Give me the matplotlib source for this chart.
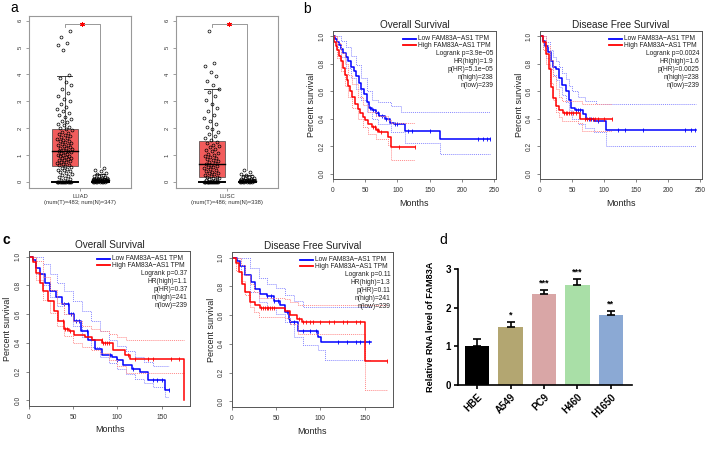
import numpy as np
import matplotlib
matplotlib.use("Agg")
import matplotlib.pyplot as plt
from matplotlib.patches import Rectangle

plt.rcParams['font.family'] = ['Liberation Sans', 'DejaVu Sans']

# ------------------------------------------------------------------ data
# panel a : box statistics [lower whisker, q1, median, q3, upper whisker]
luad_tumor_box = [0.0, 0.57, 1.15, 1.95, 3.95]
luad_normal_box = [0.0, 0.0, 0.05, 0.12, 0.27]
lusc_tumor_box = [0.0, 0.19, 0.65, 1.50, 3.44]
lusc_normal_box = [0.0, 0.0, 0.03, 0.10, 0.24]

luad_tumor_pts = [0, 0, 0, 0, 0, 0, 0, 0, 0, 0, 0, 0, 0, 0,
                  0.03, 0.06, 0.09, 0.13, 0.16, 0.2, 0.24, 0.27, 0.31, 0.35, 0.38, 0.42, 0.45, 0.49, 0.52, 0.55,
                  0.59, 0.61, 0.64, 0.67, 0.69, 0.72, 0.74, 0.77, 0.79, 0.82, 0.84, 0.87, 0.89, 0.91, 0.94, 0.96,
                  0.99, 1.01, 1.04, 1.06, 1.09, 1.11, 1.13, 1.16, 1.19, 1.21, 1.24, 1.27, 1.29, 1.32, 1.35, 1.38,
                  1.41, 1.44, 1.47, 1.5, 1.53, 1.57, 1.6, 1.64, 1.67, 1.71, 1.75, 1.79, 1.83, 1.87, 1.91, 1.95,
                  1.99, 2.04, 2.1, 2.15, 2.21, 2.27, 2.33, 2.4, 2.47, 2.55, 2.62, 2.71, 2.8, 2.9, 2.99, 3.1, 3.2,
                  3.32, 3.45, 3.6, 3.72, 3.86, 3.97, 4.92, 5.08, 5.17, 5.38, 5.62]
luad_normal_pts = [0, 0, 0, 0, 0, 0, 0, 0, 0.01, 0.02, 0.02, 0.03, 0.04, 0.05, 0.05, 0.06, 0.07, 0.08, 0.09,
                   0.1, 0.11, 0.12, 0.13, 0.15, 0.17, 0.2, 0.22, 0.25, 0.29, 0.33, 0.38, 0.44, 0.5]
lusc_tumor_pts = [0, 0, 0, 0, 0, 0, 0, 0, 0, 0, 0, 0, 0, 0, 0, 0,
                  0.02, 0.04, 0.06, 0.08, 0.1, 0.12, 0.14, 0.17, 0.19, 0.22, 0.25, 0.28, 0.31, 0.34, 0.37, 0.4,
                  0.43, 0.46, 0.5, 0.53, 0.56, 0.6, 0.63, 0.66, 0.7, 0.73, 0.77, 0.8, 0.84, 0.88, 0.92, 0.96,
                  1.0, 1.04, 1.08, 1.13, 1.18, 1.23, 1.28, 1.33, 1.38, 1.44, 1.49, 1.55, 1.62, 1.7, 1.78, 1.86,
                  1.95, 2.05, 2.15, 2.25, 2.37, 2.5, 2.62, 2.75, 2.9, 3.05, 3.2, 3.35, 3.45, 3.6, 3.75, 3.95,
                  4.1, 4.3, 4.42, 5.6]
lusc_normal_pts = [0, 0, 0, 0, 0, 0, 0, 0, 0.01, 0.01, 0.02, 0.03, 0.03, 0.04, 0.05, 0.06, 0.07, 0.08, 0.09,
                   0.1, 0.12, 0.14, 0.16, 0.19, 0.22, 0.26, 0.3, 0.35, 0.42]

# panel b : overall survival (months, survival) step change points
bos_low_t = [0, 3, 6, 9, 12, 16, 20, 24, 28, 32, 36, 40, 44, 48, 52, 56, 60, 66, 72, 80, 88, 95, 112, 166, 243]
bos_low_s = [1.0, 0.98, 0.96, 0.94, 0.91, 0.88, 0.85, 0.82, 0.78, 0.75, 0.71, 0.66, 0.62, 0.58, 0.52, 0.48,
             0.46, 0.44, 0.42, 0.40, 0.37, 0.36, 0.31, 0.25, 0.25]
bos_low_ut = [0, 6, 12, 20, 28, 36, 44, 52, 60, 70, 90, 105, 243]
bos_low_us = [1.0, 1.0, 0.97, 0.92, 0.86, 0.79, 0.70, 0.60, 0.54, 0.52, 0.49, 0.45, 0.45]
bos_low_lt = [0, 6, 12, 20, 28, 36, 44, 52, 60, 70, 90, 112, 166, 243]
bos_low_ls = [1.0, 0.92, 0.85, 0.77, 0.70, 0.62, 0.54, 0.45, 0.40, 0.36, 0.30, 0.22, 0.14, 0.14]
bos_low_cens = [58, 62, 66, 70, 76, 82, 96, 100, 116, 122, 150, 225, 233, 239, 243]
bos_high_t = [0, 2, 4, 6, 9, 12, 15, 18, 21, 24, 27, 30, 34, 38, 42, 46, 50, 55, 60, 66, 72, 85, 90, 127]
bos_high_s = [1.0, 0.96, 0.93, 0.90, 0.86, 0.82, 0.77, 0.72, 0.68, 0.64, 0.60, 0.56, 0.51, 0.47, 0.44, 0.41,
              0.39, 0.36, 0.34, 0.32, 0.30, 0.27, 0.19, 0.19]
bos_high_ut = [0, 6, 12, 18, 24, 30, 38, 46, 55, 66, 85, 90, 127]
bos_high_us = [1.0, 0.95, 0.88, 0.80, 0.72, 0.65, 0.56, 0.50, 0.45, 0.42, 0.39, 0.37, 0.37]
bos_high_lt = [0, 6, 12, 18, 24, 30, 38, 46, 55, 66, 85, 90, 127]
bos_high_ls = [1.0, 0.84, 0.75, 0.64, 0.56, 0.48, 0.40, 0.34, 0.29, 0.25, 0.21, 0.10, 0.10]
bos_high_cens = [62, 65, 68, 70, 74, 102, 127]
bos_stats = ["Logrank p=3.9e\u221205", "HR(high)=1.9", "p(HR)=5.1e\u221205", "n(high)=238", "n(low)=239"]

# panel b : disease free survival
bdfs_low_t = [0, 4, 8, 12, 17, 20, 25, 30, 35, 41, 46, 49, 54, 67, 72, 85, 103, 243]
bdfs_low_s = [1.0, 0.97, 0.93, 0.89, 0.82, 0.78, 0.76, 0.70, 0.645, 0.60, 0.54, 0.48, 0.46, 0.435, 0.40,
              0.38, 0.32, 0.32]
bdfs_low_ut = [0, 5, 10, 15, 20, 25, 30, 35, 40, 45, 50, 60, 70, 88, 243]
bdfs_low_us = [1.0, 1.0, 0.96, 0.90, 0.85, 0.82, 0.78, 0.73, 0.69, 0.64, 0.60, 0.56, 0.53, 0.51, 0.51]
bdfs_low_lt = [0, 5, 10, 15, 20, 25, 30, 35, 40, 45, 50, 60, 70, 85, 103, 243]
bdfs_low_ls = [1.0, 0.92, 0.84, 0.76, 0.72, 0.68, 0.63, 0.57, 0.52, 0.46, 0.40, 0.36, 0.33, 0.30, 0.20, 0.20]
bdfs_low_cens = [56, 59, 62, 76, 80, 90, 122, 133, 160, 226, 236, 242]
bdfs_high_t = [0, 4, 9, 13.6, 17, 21, 25, 30, 35.5, 63, 112]
bdfs_high_s = [1.0, 0.96, 0.87, 0.76, 0.63, 0.55, 0.49, 0.46, 0.44, 0.40, 0.40]
bdfs_high_ut = [0, 5, 10, 15, 20, 25, 30, 35, 60, 65, 112]
bdfs_high_us = [1.0, 1.0, 0.93, 0.83, 0.71, 0.62, 0.56, 0.53, 0.53, 0.51, 0.51]
bdfs_high_lt = [0, 5, 10, 15, 20, 25, 30, 35, 60, 65, 112]
bdfs_high_ls = [1.0, 0.90, 0.80, 0.66, 0.54, 0.45, 0.41, 0.38, 0.37, 0.31, 0.31]
bdfs_high_cens = [38, 40, 42, 45, 48, 52, 56, 70, 74, 78, 82, 86, 90, 100, 112]
bdfs_stats = ["Logrank p=0.0024", "HR(high)=1.6", "p(HR)=0.0025", "n(high)=238", "n(low)=239"]

# panel c : overall survival
cos_low_t = [0, 4, 8, 12, 18, 24, 30, 37, 45, 51, 59, 67, 75, 83, 94, 100, 106, 116, 126, 134, 154, 158]
cos_low_s = [1.0, 0.98, 0.92, 0.88, 0.82, 0.76, 0.72, 0.67, 0.60, 0.55, 0.48, 0.42, 0.36, 0.315, 0.30, 0.28,
             0.245, 0.22, 0.20, 0.14, 0.07, 0.07]
cos_low_ut = [0, 8, 16, 24, 32, 40, 50, 60, 70, 80, 90, 100, 110, 120, 130, 140, 158]
cos_low_us = [1.0, 1.0, 0.95, 0.88, 0.82, 0.76, 0.69, 0.62, 0.55, 0.48, 0.42, 0.38, 0.34, 0.30, 0.27, 0.24,
              0.24]
cos_low_lt = [0, 8, 16, 24, 32, 40, 50, 60, 70, 80, 90, 100, 110, 120, 130, 140, 154, 158]
cos_low_ls = [1.0, 0.88, 0.80, 0.72, 0.66, 0.60, 0.52, 0.44, 0.37, 0.30, 0.26, 0.22, 0.18, 0.15, 0.12, 0.09,
              0.02, 0.02]
cos_low_cens = [40, 44, 47, 50, 53, 56, 65, 92, 100, 118, 140, 145, 150, 158]
cos_high_t = [0, 4, 8, 12, 16, 22, 28, 33, 39, 45, 51, 63, 71, 83, 94.5, 108, 114, 175]
cos_high_s = [1.0, 0.96, 0.89, 0.82, 0.76, 0.69, 0.62, 0.55, 0.50, 0.48, 0.456, 0.444, 0.42, 0.40, 0.35,
              0.315, 0.285, 0.0]
cos_high_ut = [0, 8, 16, 24, 32, 40, 50, 60, 70, 80, 90, 100, 110, 175]
cos_high_us = [1.0, 0.97, 0.86, 0.77, 0.68, 0.60, 0.55, 0.52, 0.50, 0.48, 0.46, 0.44, 0.42, 0.42]
cos_high_lt = [0, 8, 16, 24, 32, 40, 50, 60, 70, 80, 90, 100, 110, 175]
cos_high_ls = [1.0, 0.84, 0.70, 0.61, 0.52, 0.45, 0.40, 0.37, 0.35, 0.33, 0.28, 0.24, 0.19, 0.19]
cos_high_cens = [38, 41, 43, 46, 82, 84, 86, 88, 90, 112, 120, 135, 140, 160, 170]
cos_stats = ["Logrank p=0.37", "HR(high)=1.1", "p(HR)=0.37", "n(high)=241", "n(low)=239"]

# panel c : disease free survival
cdfs_low_t = [0, 4, 6, 9, 15, 21, 26, 32, 39, 47, 54, 60, 64, 66, 75, 97, 101, 157]
cdfs_low_s = [1.0, 1.0, 0.98, 0.94, 0.88, 0.83, 0.785, 0.75, 0.73, 0.70, 0.67, 0.62, 0.575, 0.55, 0.49, 0.45,
              0.41, 0.41]
cdfs_low_ut = [0, 10, 20, 30, 40, 50, 60, 70, 80, 157]
cdfs_low_us = [1.0, 1.0, 0.93, 0.86, 0.82, 0.79, 0.74, 0.70, 0.66, 0.66]
cdfs_low_lt = [0, 10, 20, 30, 40, 50, 60, 70, 80, 97, 105, 157]
cdfs_low_ls = [1.0, 0.89, 0.76, 0.69, 0.65, 0.61, 0.55, 0.45, 0.39, 0.36, 0.29, 0.29]
cdfs_low_cens = [40, 44, 48, 52, 62, 66, 70, 80, 88, 95, 120, 130, 140, 145, 150, 155]
cdfs_high_t = [0, 2, 4, 7.5, 11, 15, 20.6, 26, 32, 60, 65.5, 73, 79, 150, 175]
cdfs_high_s = [1.0, 1.0, 0.96, 0.90, 0.82, 0.76, 0.69, 0.67, 0.65, 0.63, 0.60, 0.575, 0.552, 0.28, 0.28]
cdfs_high_ut = [0, 5, 10, 15, 20, 25, 30, 60, 65, 75, 150, 175]
cdfs_high_us = [1.0, 1.0, 0.95, 0.88, 0.82, 0.76, 0.72, 0.71, 0.69, 0.67, 0.67, 0.67]
cdfs_high_lt = [0, 5, 10, 15, 20, 25, 30, 60, 65, 75, 150, 175]
cdfs_high_ls = [1.0, 0.91, 0.84, 0.74, 0.66, 0.62, 0.59, 0.58, 0.54, 0.47, 0.08, 0.08]
cdfs_high_cens = [33, 35, 37, 39, 41, 43, 45, 47, 76, 80, 84, 88, 92, 100, 110, 115, 125, 130, 140, 145, 175]
cdfs_stats = ["Logrank p=0.11", "HR(high)=1.3", "p(HR)=0.11", "n(high)=241", "n(low)=239"]

# panel d : bar chart
d_cells = ["HBE", "A549", "PC9", "H460", "H1650"]
d_values = [1.0, 1.5, 2.35, 2.58, 1.82]
d_errors = [0.19, 0.12, 0.10, 0.17, 0.10]
d_signif = ["", "*", "***", "***", "**"]
d_colors = ["#000000", "#b3a671", "#d9a6a6", "#a9dfa7", "#8ba9d4"]

# ------------------------------------------------------------------ figure
W, H = 709, 451
fig = plt.figure(figsize=(W / 100, H / 100), dpi=100)


def add_ax(x0, y0, x1, y1):
    return fig.add_axes([x0 / W, 1 - y1 / H, (x1 - x0) / W, (y1 - y0) / H])


def jitter(n, width):
    return ((np.arange(n) * 0.6180339887) % 1 - 0.5) * width


def box_panel(px, tumor_pts, normal_pts, tumor_box, normal_box, xlabel, right_low):
    ax = add_ax(*px)
    ax.set_xlim(0, 2.87)
    ax.set_ylim(-0.235, 6.175)
    for pos, stats, w, face in [(1, tumor_box, 0.73, '#f25c5c'), (2, normal_box, 0.48, '#5a5a5a')]:
        lo, q1, med, q3, hi = stats
        ax.add_patch(Rectangle((pos - w / 2, q1), w, q3 - q1, facecolor=face, edgecolor='#444444',
                               lw=0.5, zorder=2))
        ax.plot([pos, pos], [q3, hi], color='#222222', lw=0.5, zorder=2)
        ax.plot([pos - w * 0.28, pos + w * 0.28], [hi, hi], color='#222222', lw=0.6, zorder=2)
        ax.plot([pos - w / 2, pos + w / 2], [lo, lo], color='black', lw=1.4, zorder=4)
        ax.plot([pos - w / 2, pos + w / 2], [med, med], color='black', lw=1.0, zorder=5)
    tp = np.array(tumor_pts, float)
    npt = np.array(normal_pts, float)
    ax.plot(1 + jitter(len(tp), 0.42), tp, 'o', ms=2.1, mfc='none', mec='black', mew=0.5, zorder=3)
    ax.plot(2 + jitter(len(npt), 0.42), npt, 'o', ms=2.1, mfc='none', mec='black', mew=0.5, zorder=3)
    ax.plot([1, 1, 2, 2], [5.75, 5.88, 5.88, right_low], color='#888888', lw=0.6)
    ax.plot([1.5], [5.88], marker=(6, 2, 0), color='red', ms=3.5, mew=0.7)
    for s in ax.spines.values():
        s.set_color('#999999')
        s.set_linewidth(0.8)
    ax.set_yticks(range(7))
    ax.set_yticklabels([str(i) for i in range(7)], rotation=90, va='center')
    ax.set_xticks([1.44])
    ax.set_xticklabels([xlabel], linespacing=1.1)
    ax.tick_params(labelsize=4.2, length=2.5, width=0.5, color='#777777', labelcolor='#333333', pad=2)
    return ax


box_panel((29, 16, 131, 188), luad_tumor_pts, luad_normal_pts, luad_tumor_box, luad_normal_box,
          "LUAD\n(num(T)=483; num(N)=347)", 0.55)
box_panel((176, 16, 278, 188), lusc_tumor_pts, lusc_normal_pts, lusc_tumor_box, lusc_normal_box,
          "LUSC\n(num(T)=486; num(N)=338)", 0.43)


def step_at(t, s, q):
    idx = np.searchsorted(np.array(t, float), np.array(q, float), side='right') - 1
    return np.array(s, float)[idx]


def km_panel(px, xmax, xticks, title, curves, stats):
    ax = add_ax(*px)
    wpx = px[2] - px[0]
    hpx = px[3] - px[1]
    ax.set_xlim(0, xmax * 1.04)
    ax.set_ylim(-0.04, 1.04)
    for (t, s, ut, us, lt, ls, cens, col, band) in curves:
        ax.step(ut, us, where='post', color=band, ls=(0, (1, 1)), lw=0.7)
        ax.step(lt, ls, where='post', color=band, ls=(0, (1, 1)), lw=0.7)
        ax.step(t, s, where='post', color=col, lw=1.1)
        ax.plot(cens, step_at(t, s, cens), '|', color=col, ms=3.5, mew=0.6)
    for sp in ax.spines.values():
        sp.set_color('#555555')
        sp.set_linewidth(0.7)
    ax.set_xticks(xticks)
    ax.set_xticklabels([str(x) for x in xticks])
    yt = [0, 0.2, 0.4, 0.6, 0.8, 1.0]
    ax.set_yticks(yt)
    ax.set_yticklabels(["%.1f" % v for v in yt], rotation=90, va='center')
    ax.tick_params(labelsize=4.8, length=2.5, width=0.5, color='#555555', labelcolor='#333333', pad=3)
    ax.set_title(title, fontsize=7.2, pad=2.5, color='#222222')
    ax.text(-21 / wpx, 0.5, "Percent survival", rotation=90, ha='center', va='center',
            transform=ax.transAxes, fontsize=6.5, color='#222222')
    ax.text(0.5, -24 / hpx, "Months", ha='center', va='center', transform=ax.transAxes,
            fontsize=6.4, color='#222222')
    # legend
    for i, (lab, col) in enumerate([("Low FAM83A\u2212AS1 TPM", 'blue'), ("High FAM83A\u2212AS1 TPM", 'red')]):
        yy = 1 - (7.8 + 6.6 * i) / hpx
        ax.plot([1 - 93 / wpx, 1 - 80 / wpx], [yy, yy], color=col, lw=1.3, transform=ax.transAxes,
                clip_on=False)
        ax.text(1 - 78 / wpx, yy, lab, ha='left', va='center', transform=ax.transAxes, fontsize=4.8,
                color='#222222')
    for i, line in enumerate(stats):
        yy = 1 - (22.5 + 8.0 * i) / hpx
        ax.text(1 - 2.5 / wpx, yy, line, ha='right', va='center', transform=ax.transAxes, fontsize=4.8,
                color='#222222')
    return ax


BLUE, RED, LBLUE, LRED = '#0000ff', '#ff0000', '#8a8aff', '#ff8a8a'
km_panel((333, 31, 496, 179), 243, [0, 50, 100, 150, 200, 250], "Overall Survival",
         [(bos_low_t, bos_low_s, bos_low_ut, bos_low_us, bos_low_lt, bos_low_ls, bos_low_cens, BLUE, LBLUE),
          (bos_high_t, bos_high_s, bos_high_ut, bos_high_us, bos_high_lt, bos_high_ls, bos_high_cens, RED, LRED)],
         bos_stats)
km_panel((540, 31, 702, 179), 243, [0, 50, 100, 150, 200, 250], "Disease Free Survival",
         [(bdfs_low_t, bdfs_low_s, bdfs_low_ut, bdfs_low_us, bdfs_low_lt, bdfs_low_ls, bdfs_low_cens, BLUE, LBLUE),
          (bdfs_high_t, bdfs_high_s, bdfs_high_ut, bdfs_high_us, bdfs_high_lt, bdfs_high_ls, bdfs_high_cens, RED,
           LRED)],
         bdfs_stats)
km_panel((29, 251, 190, 406), 175, [0, 50, 100, 150], "Overall Survival",
         [(cos_low_t, cos_low_s, cos_low_ut, cos_low_us, cos_low_lt, cos_low_ls, cos_low_cens, BLUE, LBLUE),
          (cos_high_t, cos_high_s, cos_high_ut, cos_high_us, cos_high_lt, cos_high_ls, cos_high_cens, RED, LRED)],
         cos_stats)
km_panel((232, 252, 393, 407), 175, [0, 50, 100, 150], "Disease Free Survival",
         [(cdfs_low_t, cdfs_low_s, cdfs_low_ut, cdfs_low_us, cdfs_low_lt, cdfs_low_ls, cdfs_low_cens, BLUE, LBLUE),
          (cdfs_high_t, cdfs_high_s, cdfs_high_ut, cdfs_high_us, cdfs_high_lt, cdfs_high_ls, cdfs_high_cens, RED,
           LRED)],
         cdfs_stats)

# panel d
axd = add_ax(458, 269, 632, 385)
x = np.arange(len(d_cells))
axd.bar(x, d_values, width=0.72, color=d_colors, edgecolor='none', zorder=2)
axd.errorbar(x, d_values, yerr=[np.zeros(len(d_values)), d_errors], fmt='none', ecolor='black',
             elinewidth=1.2, capsize=3.2, capthick=1.2, zorder=3)
for xi, v, e, s in zip(x, d_values, d_errors, d_signif):
    if s:
        axd.text(xi, v + e + 0.06, s, ha='center', va='bottom', fontsize=6.5, fontweight='bold')
axd.set_xlim(-0.57, 4.63)
axd.set_ylim(0, 3)
axd.set_yticks([0, 1, 2, 3])
axd.set_xticks(x)
axd.set_xticklabels(d_cells, rotation=45, ha='right', rotation_mode='anchor', fontweight='bold')
for lab in axd.get_yticklabels():
    lab.set_fontweight('bold')
axd.spines['top'].set_visible(False)
axd.spines['right'].set_visible(False)
axd.spines['left'].set_linewidth(1.2)
axd.spines['bottom'].set_linewidth(1.2)
axd.spines['left'].set_bounds(0, 3)
axd.tick_params(labelsize=7, length=3, width=1.2, pad=2)
axd.set_ylabel("Relative RNA level of FAM83A", fontsize=6.6, fontweight='bold')
axd.yaxis.set_label_coords(-23 / 174, 0.5)

# panel labels
fig.text(14 / W, 1 - 8 / H, "a", fontsize=10, ha='center', va='center')
fig.text(307 / W, 1 - 9 / H, "b", fontsize=10, ha='center', va='center')
fig.text(6 / W, 1 - 240 / H, "c", fontsize=10, ha='center', va='center', fontweight='bold')
fig.text(443 / W, 1 - 240 / H, "d", fontsize=10, ha='center', va='center')

fig.savefig("out.png", dpi=100)
